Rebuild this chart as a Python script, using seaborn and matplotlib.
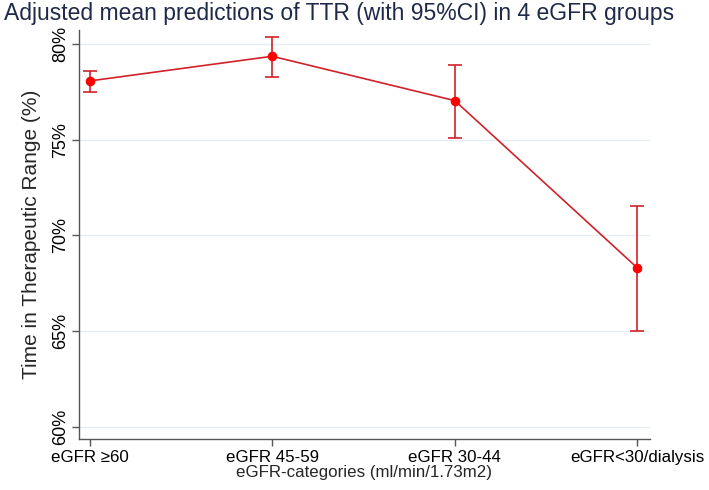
import numpy as np
import pandas as pd
import matplotlib
matplotlib.use("Agg")
import matplotlib.pyplot as plt
import seaborn as sns

# values
groups = ["eGFR \u226560", "eGFR 45-59", "eGFR 30-44", "eGFR<30/dialysis"]
ttr_mean = [78.08, 79.37, 77.05, 68.30]
ttr_low = [77.49, 78.29, 75.10, 65.02]
ttr_high = [78.59, 80.40, 78.90, 71.55]
y_ticks = [60, 65, 70, 75, 80]

sns.set_style("white")
plt.rcParams["font.family"] = ["Liberation Sans", "DejaVu Sans"]

df = pd.DataFrame({"group": groups, "ttr": ttr_mean})

fig = plt.figure(figsize=(7.09, 4.90), dpi=100)
ax = fig.add_axes([0.111, 0.104, 0.806, 0.835])

line_red = "#d0222a"
sns.pointplot(data=df, x="group", y="ttr", color=line_red, markers="o",
              markersize=6, linewidth=1.2, errorbar=None, ax=ax)
for ln in ax.lines:
    ln.set_markerfacecolor("#ff0000")
    ln.set_markeredgecolor("#ff0000")

xs = np.arange(len(groups))
means = np.array(ttr_mean)
yerr = [means - np.array(ttr_low), np.array(ttr_high) - means]
ax.errorbar(xs, means, yerr=yerr, fmt="none", ecolor=line_red,
            elinewidth=1.2, capsize=5, capthick=1.2, zorder=1)

ax.set_ylim(59.35, 80.75)
ax.set_xlim(-0.06, 3.07)
ax.set_yticks(y_ticks)
ax.set_yticklabels([f"{v}%" for v in y_ticks], rotation=90, va="center")
ax.yaxis.grid(True, color="#e6eef1", linewidth=1)
ax.set_axisbelow(True)

for side in ["top", "right"]:
    ax.spines[side].set_visible(False)
for side in ["left", "bottom"]:
    ax.spines[side].set_color("#555555")
    ax.spines[side].set_linewidth(1.0)

ax.tick_params(axis="both", direction="out", length=5, width=1,
               color="#555555", labelcolor="black", left=True, bottom=True)
ax.tick_params(axis="x", pad=3, labelsize=12.2)
ax.tick_params(axis="y", pad=2, labelsize=13)
ax.set_xlabel("eGFR-categories (ml/min/1.73m2)", fontsize=12.2, labelpad=0)
ax.set_ylabel("Time in Therapeutic Range (%)", fontsize=15, labelpad=8)

fig.text(0.005, 0.972, "Adjusted mean predictions of TTR (with 95%CI) in 4 eGFR groups",
         fontsize=16.5, color="#1e2a48", ha="left", va="center")

fig.savefig("out.png", dpi=100)
